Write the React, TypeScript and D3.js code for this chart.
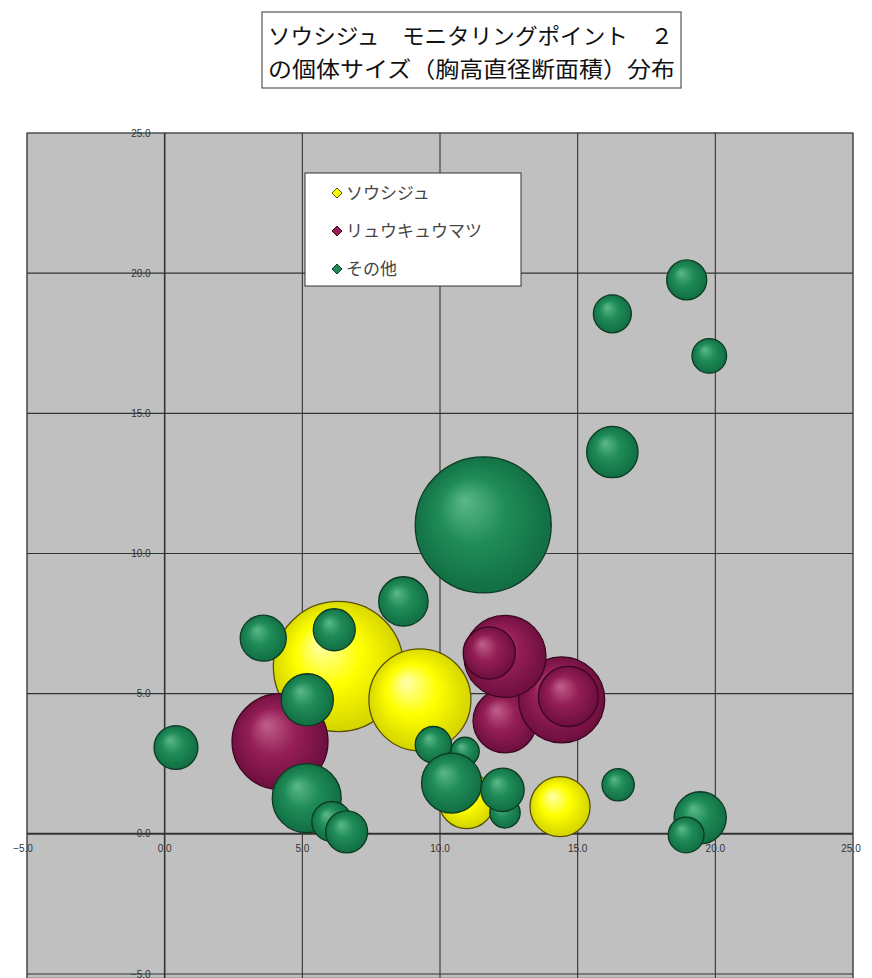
import React from "react";
import * as d3 from "d3";

// ---- data ----
const titleLines = ["ソウシジュ　モニタリングポイント　２", "の個体サイズ（胸高直径断面積）分布"];
const seriesNames = ["ソウシジュ", "リュウキュウマツ", "その他"];
const axisTicks = [-5, 0, 5, 10, 15, 20, 25];

// [x, y, size] in drawing order
const soushiju: [number, number, number][] = [
  [6.31, 5.97, 42.3],
  [9.27, 4.78, 26.0],
  [10.97, 1.18, 7.8],
  [14.36, 0.97, 9.0],
];
const ryukyumatsu: [number, number, number][] = [
  [4.19, 3.29, 23.0],
  [12.36, 4.03, 10.2],
  [14.42, 4.78, 18.5],
  [12.36, 6.33, 16.8],
  [11.79, 6.45, 6.8],
  [14.66, 4.9, 9.0],
];
const sonota: [number, number, number][] = [
  [11.57, 11.02, 46.2],
  [5.16, 1.27, 11.9],
  [9.76, 3.18, 3.3],
  [10.91, 2.94, 2.0],
  [10.42, 1.81, 9.0],
  [19.45, 0.57, 6.8],
  [16.26, 13.62, 6.6],
  [5.18, 4.78, 6.8],
  [8.67, 8.29, 6.1],
  [3.58, 6.98, 5.3],
  [0.41, 3.08, 4.8],
  [12.36, 0.75, 2.3],
  [12.27, 1.57, 4.7],
  [6.16, 7.28, 4.4],
  [6.07, 0.44, 4.0],
  [6.61, 0.07, 4.4],
  [18.96, 19.76, 4.0],
  [16.26, 18.55, 3.6],
  [18.94, -0.04, 3.2],
  [19.78, 17.05, 3.0],
  [16.47, 1.75, 2.6],
];

const W = 872;
const H = 978;

const palettes = [
  { id: "gY", hi: "#ffffb0", mid: "#ffff00", lo: "#d6d600", edge: "#5a5200" },
  { id: "gM", hi: "#c0608c", mid: "#941e55", lo: "#701040", edge: "#3c0620" },
  { id: "gG", hi: "#5cb88a", mid: "#1f8c58", lo: "#127044", edge: "#0b3a22" },
];

export default function App() {
  const x = d3.scaleLinear().domain([-5, 25]).range([27, 853]);
  const y = d3.scaleLinear().domain([-5, 25]).range([974, 133]);
  const r = d3.scaleSqrt().domain([0, 46.2]).range([0, 68]);
  const fmt = d3.format(".1f");
  const series = [soushiju, ryukyumatsu, sonota];

  const jp = "'Noto Sans CJK JP', sans-serif";

  return (
    <svg
      width={W}
      height={H}
      viewBox={`0 0 ${W} ${H}`}
      style={{ position: "absolute", left: 0, top: 0, background: "#fff" }}
    >
      <defs>
        {palettes.map((p) => (
          <radialGradient key={p.id} id={p.id} cx="0.5" cy="0.5" r="0.55" fx="0.36" fy="0.32">
            <stop offset="0" stopColor={p.hi} />
            <stop offset="0.45" stopColor={p.mid} />
            <stop offset="0.9" stopColor={p.lo} />
            <stop offset="1" stopColor={p.lo} />
          </radialGradient>
        ))}
      </defs>

      {/* title */}
      <rect x={262} y={12} width={419} height={76} fill="#fff" stroke="#555" strokeWidth={1.2} />
      {titleLines.map((t, i) => (
        <text
          key={i}
          x={268}
          y={44 + i * 33}
          fontFamily={jp}
          fontSize={22}
          fill="#111"
          textLength={i === 0 ? 405 : 407}
          lengthAdjust="spacingAndGlyphs"
        >
          {t}
        </text>
      ))}

      {/* plot area */}
      <rect x={27} y={133} width={826} height={H - 133} fill="#c0c0c0" stroke="#888" strokeWidth={1} />

      {/* gridlines */}
      {axisTicks.map((t) => (
        <line
          key={"v" + t}
          x1={x(t)}
          x2={x(t)}
          y1={133}
          y2={H}
          stroke="#333"
          strokeWidth={t === 0 ? 1.6 : 1.1}
        />
      ))}
      {axisTicks.map((t) => (
        <line
          key={"h" + t}
          x1={27}
          x2={853}
          y1={y(t)}
          y2={y(t)}
          stroke="#333"
          strokeWidth={t === 0 ? 2 : 1.1}
        />
      ))}

      {/* tick labels */}
      {axisTicks.map((t) => (
        <text
          key={"yl" + t}
          x={x(0) - 14}
          y={y(t)}
          dy="0.35em"
          textAnchor="end"
          fontFamily="'Liberation Sans', Arial, sans-serif"
          fontSize={10}
          fill="#333"
        >
          {fmt(t)}
        </text>
      ))}
      {axisTicks.map((t) => (
        <text
          key={"xl" + t}
          x={t === 25 ? x(t) - 2 : t === -5 ? x(t) - 4 : x(t)}
          y={y(0) + 18}
          textAnchor="middle"
          fontFamily="'Liberation Sans', Arial, sans-serif"
          fontSize={10}
          fill="#333"
        >
          {fmt(t)}
        </text>
      ))}

      {/* bubbles */}
      {series.map((s, si) =>
        s.map((d, i) => (
          <circle
            key={si + "-" + i}
            cx={x(d[0])}
            cy={y(d[1])}
            r={r(d[2])}
            fill={`url(#${palettes[si].id})`}
            stroke={palettes[si].edge}
            strokeWidth={1.3}
          />
        ))
      )}

      {/* legend */}
      <rect x={305} y={173} width={216} height={113} fill="#fff" stroke="#333" strokeWidth={1} />
      {seriesNames.map((n, i) => {
        const cy = 193 + i * 38;
        return (
          <g key={n}>
            <path
              d={`M337,${cy - 5} L342,${cy} L337,${cy + 5} L332,${cy} Z`}
              fill={palettes[i].mid}
              stroke={palettes[i].edge}
              strokeWidth={1}
            />
            <text x={346} y={cy} dy="0.36em" fontFamily={jp} fontSize={17} fill="#444">
              {n}
            </text>
          </g>
        );
      })}
    </svg>
  );
}
